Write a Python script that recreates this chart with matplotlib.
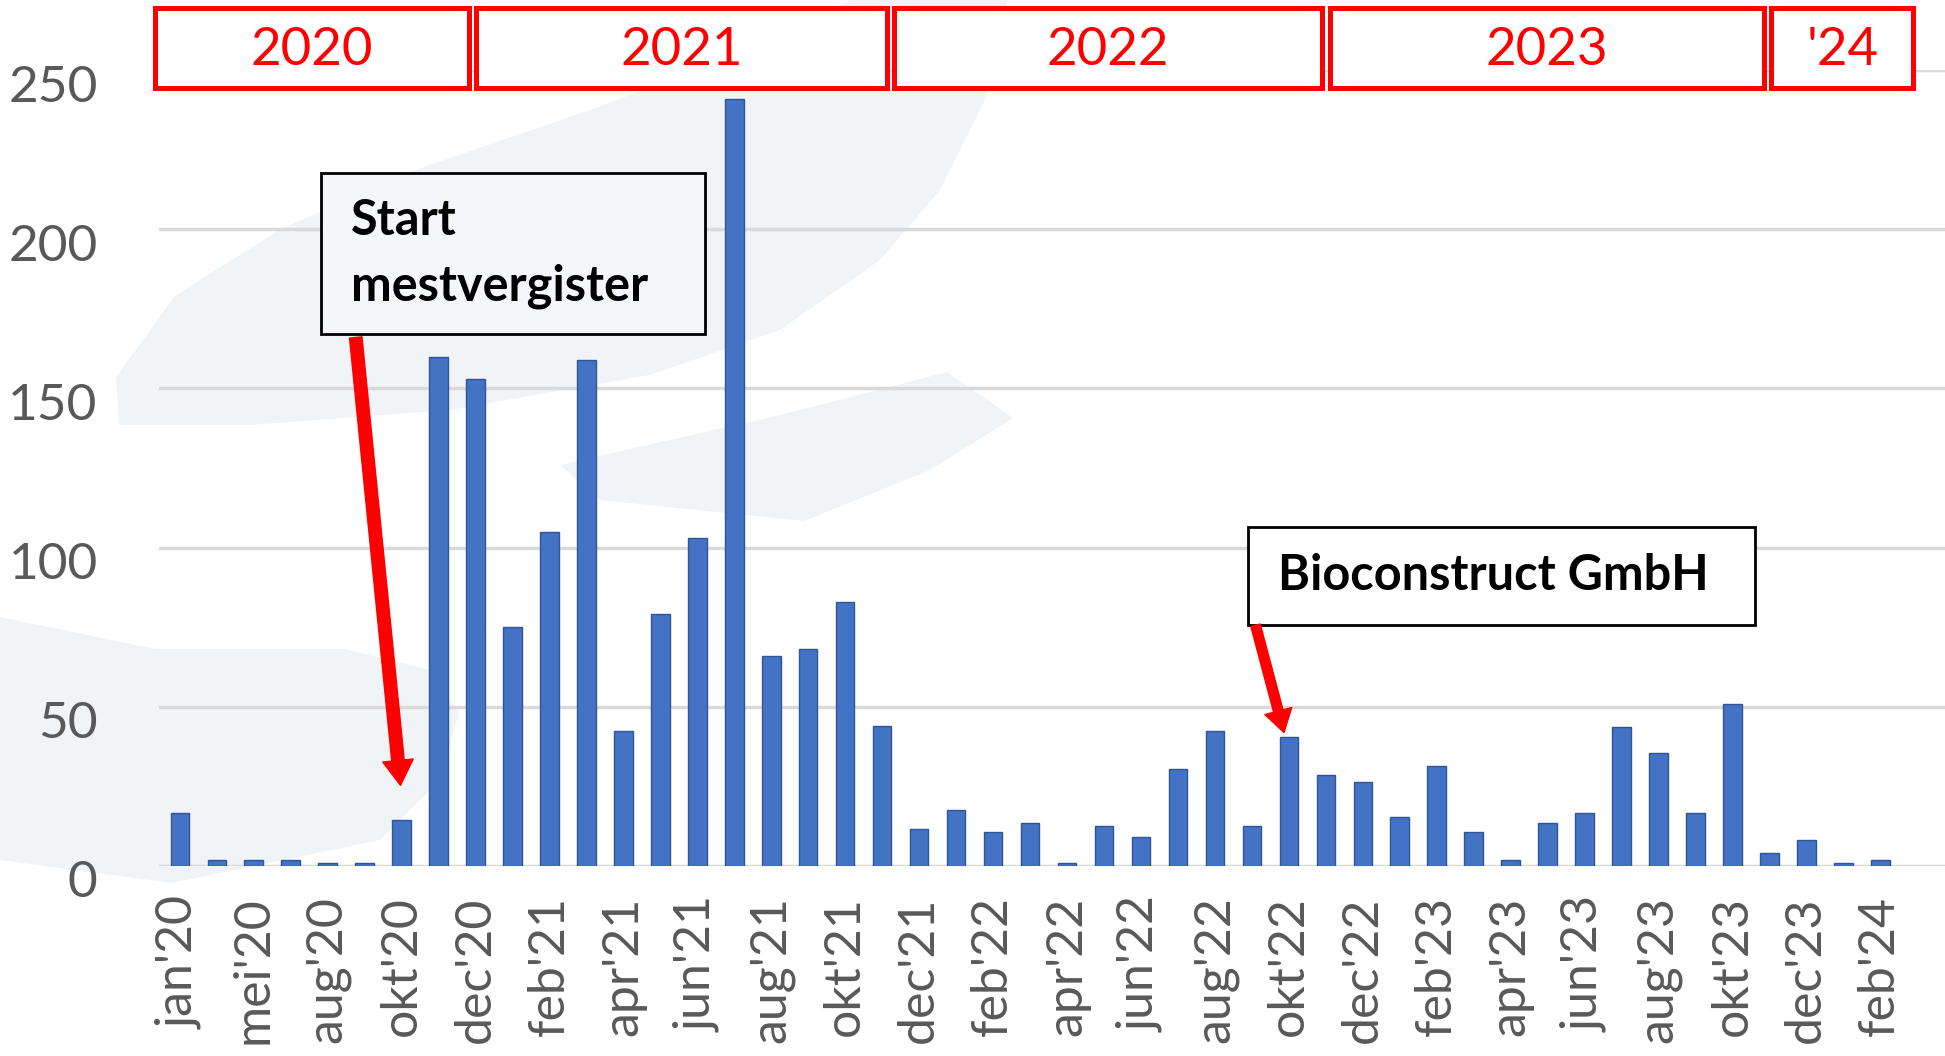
import matplotlib
matplotlib.use('Agg')
import matplotlib.pyplot as plt
from matplotlib.patches import Rectangle, Polygon
from matplotlib.transforms import ScaledTranslation

plt.rcParams['font.family'] = ['Lato', 'DejaVu Sans']

# maanden (alleen elke tweede wordt gelabeld)
maanden = ["jan'20", "mrt'20", "mei'20", "jul'20", "aug'20", "sep'20", "okt'20", "nov'20", "dec'20",
           "jan'21", "feb'21", "mrt'21", "apr'21", "mei'21", "jun'21", "jul'21", "aug'21", "sep'21",
           "okt'21", "nov'21", "dec'21",
           "jan'22", "feb'22", "mrt'22", "apr'22", "mei'22", "jun'22", "jul'22", "aug'22", "sep'22",
           "okt'22", "nov'22", "dec'22",
           "jan'23", "feb'23", "mrt'23", "apr'23", "mei'23", "jun'23", "jul'23", "aug'23", "sep'23",
           "okt'23", "nov'23", "dec'23",
           "jan'24", "feb'24"]
aantal = [16.5, 2, 2, 2, 1, 1, 14.5, 160, 153,
          75, 105, 159, 42.5, 79, 103, 241, 66, 68, 83, 44, 11.5,
          17.5, 10.5, 13.5, 1, 12.5, 9, 30.5, 42.5, 12.5, 40.5, 28.5, 26.5,
          15.5, 31.5, 10.5, 2, 13.5, 16.5, 43.5, 35.5, 16.5, 51, 4, 8,
          1, 2]
jaren = ['2020', '2021', '2022', '2023', "'24"]

fig = plt.figure(figsize=(19.45, 10.56), dpi=100)

# vage achtergrondvorm (watermerk), pixels vanaf linksboven
H = 1056
boog = [(116, 377), (175, 296), (281, 229), (421, 168), (596, 108), (772, 40), (850, 0),
        (1008, 0), (985, 100), (940, 190), (880, 260), (780, 330), (650, 375), (450, 410),
        (250, 425), (119, 425)]
tong = [(560, 465), (780, 415), (947, 372), (1013, 418), (930, 470), (804, 521), (600, 500)]
blob = [(0, 617), (155, 649), (345, 649), (430, 670), (459, 713), (440, 780), (380, 840),
        (172, 883), (0, 860)]
for vorm in (boog, tong, blob):
    fig.patches.append(Polygon([(px, H - py) for px, py in vorm], closed=True,
                               transform=None, facecolor='#F1F4F7', edgecolor='none',
                               zorder=-5))

ax = fig.add_axes([0.0816, 0.18, 0.9184, 0.7537])
ax.patch.set_alpha(0)

x = list(range(len(maanden)))
ax.bar(x, aantal, width=0.5, color='#4472C4', edgecolor='#2F5597', linewidth=1, zorder=3)

ax.set_xlim(-0.57, 47.75)
ax.set_ylim(0, 250)
ax.set_yticks([0, 50, 100, 150, 200, 250])
ax.set_xticks(x[::2])
ax.set_xticklabels(maanden[::2], rotation=90, fontsize=36, color='#595959')
ax.tick_params(axis='y', labelsize=37, labelcolor='#595959', length=0, pad=44)
ax.tick_params(axis='x', length=0, pad=22)
for lab in ax.get_yticklabels():
    lab.set_transform(lab.get_transform() + ScaledTranslation(0, -0.13, fig.dpi_scale_trans))
ax.grid(axis='y', color='#D9D9D9', linewidth=2.5, zorder=0)
for s in ax.spines.values():
    s.set_visible(False)

# jaarvakken bovenaan
grenzen = [(-0.68, 7.82), (8.01, 19.13), (19.32, 30.9), (31.11, 42.86), (43.05, 46.89)]
for jaar, (a, b) in zip(jaren, grenzen):
    ax.add_patch(Rectangle((a, 244.4), b - a, 25, facecolor='white', edgecolor='#FF0000',
                           linewidth=3.6, clip_on=False, zorder=5))
    ax.text((a + b) / 2, 256, jaar, color='#FF0000', fontsize=38, ha='center', va='center',
            clip_on=False, zorder=6)

# annotaties
ax.add_patch(Rectangle((3.81, 167.2), 10.39, 50.6, facecolor='#F4F6F9', edgecolor='black',
                       linewidth=2, zorder=5))
ax.text(4.63, 192.3, 'Start\nmestvergister', fontsize=35, fontweight='bold', va='center',
        ha='left', linespacing=1.55, zorder=6)
ax.annotate('', xy=(5.97, 25.3), xytext=(4.76, 166),
            arrowprops=dict(facecolor='red', edgecolor='red', width=9, headwidth=22,
                            headlength=18, shrink=0), zorder=7)

ax.add_patch(Rectangle((28.9, 75.6), 13.7, 31, facecolor='white', edgecolor='black',
                       linewidth=2, zorder=5))
ax.text(29.7, 91.2, 'Bioconstruct GmbH', fontsize=35, fontweight='bold', va='center',
        ha='left', zorder=6)
ax.annotate('', xy=(29.87, 41.9), xytext=(29.1, 75.6),
            arrowprops=dict(facecolor='red', edgecolor='red', width=7, headwidth=20,
                            headlength=16, shrink=0), zorder=7)

fig.savefig('out.png', dpi=100)
